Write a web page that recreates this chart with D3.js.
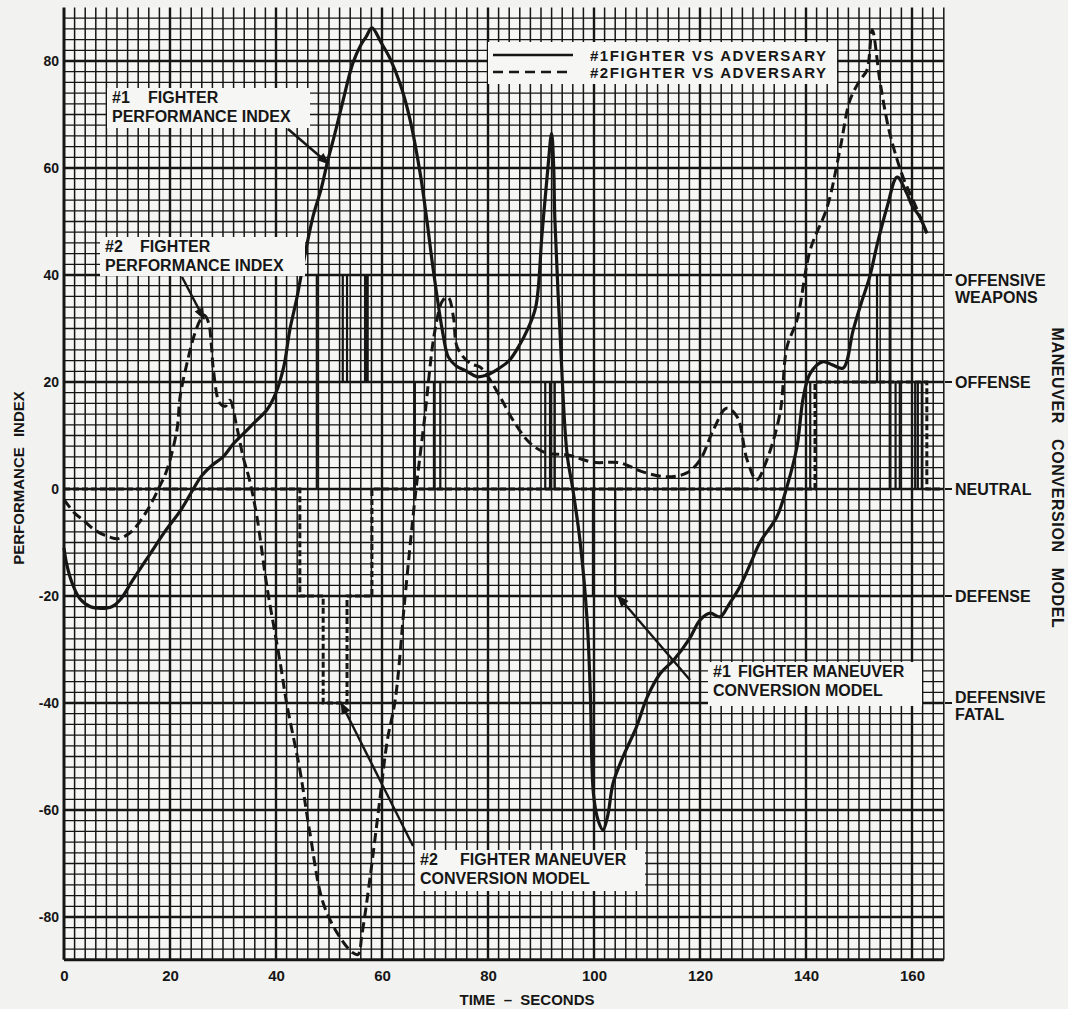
<!DOCTYPE html>
<html>
<head>
<meta charset="utf-8">
<script src="https://cdn.jsdelivr.net/npm/d3@7"></script>
<style>
  html, body { margin: 0; padding: 0; background: #f2f2f0; }
  svg { display: block; font-family: "Liberation Sans", Arial, Helvetica, sans-serif; font-weight: bold; }
  .pre { white-space: pre; }
</style>
</head>
<body>
<svg id="chart" width="1068" height="1009"></svg>
<script>
// ---- tick labels and category levels ----
const xTickValues = [0, 20, 40, 60, 80, 100, 120, 140, 160];
const yTickValues = [80, 60, 40, 20, 0, -20, -40, -60, -80];
const maneuverLevels = [40, 20, 0, -20, -40];
const maneuverLevelNames = [["OFFENSIVE", "WEAPONS"], ["OFFENSE"], ["NEUTRAL"], ["DEFENSE"], ["DEFENSIVE", "FATAL"]];
const legendLabels = ["#1FIGHTER VS ADVERSARY", "#2FIGHTER VS ADVERSARY"];

// ---- performance index, [time s, index] ----
const fighter1Index = [
  [0, -11], [0.5, -14], [1.5, -17.5], [3, -20.5], [5, -22], [7, -22.3], [9, -22], [10.6, -20.7],
  [13, -17], [16, -12.5], [19, -8], [22, -4], [24.4, 0], [26, 2.5], [28, 4.5], [30, 6], [32, 8.5],
  [34, 10.5], [36, 12.5], [38.3, 14.8], [40, 18], [41.5, 23], [42.6, 29.7], [44, 36], [45.5, 44],
  [47, 51], [48.5, 56], [49.8, 61.5], [51, 66], [52.5, 72], [54.5, 79.6], [56, 83], [57, 84.5],
  [58.1, 86.2], [59.8, 83.5], [61.5, 80.5], [63.5, 75.5], [65.3, 69], [67.2, 59], [68.5, 50], [69.6, 41.5],
  [71.5, 29], [72.5, 24.7], [74, 23], [76, 22], [77.9, 21], [79.8, 21.3], [82, 22.5], [84, 24],
  [86, 27], [87.4, 29.7], [89, 34], [90.2, 47.8], [91.3, 60], [92, 66.5], [92.4, 60], [92.6, 50.8],
  [93.6, 29], [94.9, 6.7], [96, 0], [97.4, -10], [98.7, -24.5], [99.3, -38], [99.9, -57],
  [100.8, -62], [101.7, -63.7], [102.6, -61], [103.6, -55], [105.5, -50], [108, -44.5], [110, -39],
  [112.5, -34.5], [115, -32], [118, -28], [120, -24.5], [121.9, -23.2], [123.8, -23.9], [125.5, -21.5],
  [127.5, -18.3], [129.5, -14], [131.3, -10], [134.5, -5.2], [136.4, 0.4], [138.3, 7.9], [139.5, 17.2],
  [140.8, 21.6], [143.2, 23.8], [145, 23.2], [147, 22.6], [148.9, 29.7], [150.5, 35], [152, 39.6],
  [153.5, 46], [155.3, 52.7], [157.2, 58.3], [159, 55.3], [160, 53], [161.5, 50.8], [162.8, 47.8]
];
const fighter2Index = [
  [0, -2], [2, -4.5], [3.6, -5.8], [6, -7.8], [8.7, -9], [10, -9.3], [11.5, -8.8], [13, -7.7],
  [15.7, -4], [18, 0.4], [19.4, 3.5], [21.3, 11], [21.9, 17.2], [23.2, 23.5], [24.5, 28.5],
  [25.7, 31.6], [26.5, 32.5], [27.3, 31], [27.8, 27], [28.2, 22.2], [29.4, 16], [30.5, 15.5],
  [31.3, 16.6], [32.6, 11.6], [33.8, 6], [35, 1.7], [36.4, -5.2], [38.3, -18.3], [40.8, -32.5],
  [42, -40], [44.5, -52.5], [46.4, -64.3], [48.9, -77.4], [52, -83.7], [54.5, -86.7], [55.5, -87],
  [56.2, -83.4], [57.7, -73], [59.6, -58], [61, -47], [62.5, -39.4], [64.3, -20.7], [66.2, -2],
  [68, 12.9], [70, 29.7], [71.5, 35.3], [72.5, 35.8], [73.5, 32], [74.2, 26.5], [76.6, 23.5],
  [78.5, 22.8], [80, 21], [82.3, 17.2], [84.7, 12.9], [87.9, 8.6], [91.1, 6.7], [94.9, 6.4],
  [99.8, 5], [104.9, 4.9], [109.2, 3.2], [113.8, 2.3], [117.5, 3], [120, 5.4], [122.5, 11],
  [125, 15.1], [127, 13.5], [128.9, 5.4], [130.7, 1.7], [132.6, 5.4], [135.1, 14.2], [136.4, 26.5],
  [138.3, 31.6], [140.8, 44.7], [144, 52.7], [146.4, 63.4], [148.3, 72.7], [150.2, 76.4],
  [151.5, 78.3], [152.5, 85.8], [154, 75.9], [155.8, 66.5], [158.3, 58.3], [160.2, 54], [162.8, 47.8]
];

// ---- maneuver conversion model, [switch time s, level] ----
const fighter1Maneuver = [
  [0, 0], [47.7, 40], [52.6, 20], [53.4, 40], [56.8, 20], [57.2, 40], [57.3, 20], [66.2, 0],
  [69.8, 20], [71, 0], [90.8, 20], [91.7, 0], [92.55, 20], [92.6, 0], [99.8, -20], [104, 0],
  [140.8, 20], [153.4, 40], [155.8, 0], [156.9, 20], [157.7, 0], [160.6, 20], [161.1, 0],
  [161.85, 20], [161.9, 0], [166, 0]
];
const fighter2Maneuver = [
  [0, 0], [44.5, -20], [48.9, -40], [53.4, -20], [58.1, 0], [141.7, 20], [162.8, 0], [166, 0]
];

// ---- layout ----
const svg = d3.select("#chart");
const ink = "#161616";
const x = d3.scaleLinear().domain([0, 166]).range([64, 943.8]);
const y = d3.scaleLinear().domain([-88, 90]).range([959.8, 7.5]);

// paper
svg.append("rect").attr("width", 1068).attr("height", 1009).attr("fill", "#f2f2f0");
svg.append("rect").attr("x", x(0)).attr("y", y(90)).attr("width", x(166) - x(0)).attr("height", y(-88) - y(90)).attr("fill", "#f6f6f4");

// graph-paper grid, 2-unit cells, heavy every 20
const grid = svg.append("g");
const vLines = d3.range(0, 167, 2);
const hLines = d3.range(-88, 89, 2);
grid.selectAll("line.h").data(hLines).join("line")
  .attr("x1", x(0)).attr("x2", x(166))
  .attr("y1", d => y(d)).attr("y2", d => y(d))
  .attr("stroke", ink)
  .attr("stroke-width", d => d === -88 ? 3 : (d % 20 === 0 ? 2.4 : 1.3));
grid.selectAll("line.v").data(vLines).join("line")
  .attr("y1", y(-88)).attr("y2", y(90))
  .attr("x1", d => x(d)).attr("x2", d => x(d))
  .attr("stroke", ink)
  .attr("stroke-width", d => d === 0 ? 3 : (d % 20 === 0 ? 2.4 : 1.5));

// axes (labels only; the grid carries the lines)
const yAxis = svg.append("g").attr("transform", `translate(${x(0)},0)`)
  .call(d3.axisLeft(y).tickValues(yTickValues).tickFormat(d => String(d)).tickSize(0).tickPadding(5));
yAxis.select(".domain").remove();
yAxis.selectAll("text").attr("font-size", 14).attr("font-weight", "bold").attr("fill", ink)
  .attr("font-family", '"Liberation Sans", Arial, sans-serif');

const xAxis = svg.append("g").attr("transform", `translate(0,${y(-88)})`)
  .call(d3.axisBottom(x).tickValues(xTickValues).tickFormat(d => String(d)).tickSize(0).tickPadding(11));
xAxis.select(".domain").remove();
xAxis.selectAll("text").attr("font-size", 15).attr("font-weight", "bold").attr("fill", ink)
  .attr("font-family", '"Liberation Sans", Arial, sans-serif');

// maneuver conversion model steps
const stepLine = d3.line().x(d => x(d[0])).y(d => y(d[1])).curve(d3.curveStepAfter);
svg.append("path").datum(fighter1Maneuver).attr("d", stepLine)
  .attr("fill", "none").attr("stroke", ink).attr("stroke-width", 2.2);
svg.append("path").datum(fighter2Maneuver).attr("d", stepLine)
  .attr("fill", "none").attr("stroke", ink).attr("stroke-width", 3)
  .attr("stroke-dasharray", "6,3");

// performance index curves
const curve = d3.line().x(d => x(d[0])).y(d => y(d[1])).curve(d3.curveCatmullRom.alpha(0.5));
svg.append("path").datum(fighter2Index).attr("d", curve)
  .attr("fill", "none").attr("stroke", ink).attr("stroke-width", 3)
  .attr("stroke-dasharray", "10,5");
svg.append("path").datum(fighter1Index).attr("d", curve)
  .attr("fill", "none").attr("stroke", ink).attr("stroke-width", 3.2)
  .attr("stroke-linejoin", "round");

// right-hand category labels
const rightLabels = svg.append("g").attr("font-size", 16).attr("fill", ink);
maneuverLevels.forEach((lv, i) => {
  const names = maneuverLevelNames[i];
  const py = y(lv);
  rightLabels.append("line").attr("x1", 945).attr("x2", 952).attr("y1", py).attr("y2", py)
    .attr("stroke", ink).attr("stroke-width", 2);
  const first = names.length === 1 ? py + 6 : (lv > 0 ? py + 11 : py);
  names.forEach((n, j) => {
    rightLabels.append("text").attr("x", 955).attr("y", first + j * 17).text(n);
  });
});

// axis titles
svg.append("text").attr("transform", `translate(24,478) rotate(-90)`)
  .attr("text-anchor", "middle").attr("font-size", 15).attr("fill", ink)
  .attr("word-spacing", 6).text("PERFORMANCE INDEX");
svg.append("text").attr("transform", `translate(1052,478) rotate(90)`)
  .attr("text-anchor", "middle").attr("font-size", 16).attr("fill", ink)
  .attr("letter-spacing", 0.6).attr("word-spacing", 10).text("MANEUVER CONVERSION MODEL");
svg.append("text").attr("class", "pre").attr("x", 527).attr("y", 1005)
  .attr("text-anchor", "middle").attr("font-size", 15).attr("fill", ink)
  .text("TIME  \u2013  SECONDS");

// legend
const legend = svg.append("g");
legend.append("rect").attr("x", 488).attr("y", 42).attr("width", 349).attr("height", 42).attr("fill", "#f6f6f4");
legendLabels.forEach((lab, i) => {
  const ly = 55 + i * 17;
  legend.append("line").attr("x1", 493).attr("x2", 573).attr("y1", ly).attr("y2", ly)
    .attr("stroke", ink).attr("stroke-width", 2.6)
    .attr("stroke-dasharray", i === 0 ? null : "10,6");
  legend.append("text").attr("x", 590).attr("y", ly + 5.5).attr("font-size", 15)
    .attr("textLength", 236).attr("lengthAdjust", "spacing").attr("fill", ink).text(lab);
});

// callouts
svg.append("defs").append("marker").attr("id", "head")
  .attr("viewBox", "0 0 10 10").attr("refX", 9).attr("refY", 5)
  .attr("markerWidth", 6).attr("markerHeight", 5).attr("orient", "auto")
  .append("path").attr("d", "M0,1 L10,5 L0,9 Z").attr("fill", ink);

function callout(box, tag, rest, line2, lineX, arrow) {
  const g = svg.append("g");
  g.append("rect").attr("x", box[0]).attr("y", box[1]).attr("width", box[2]).attr("height", box[3]).attr("fill", "#f6f6f4");
  g.append("text").attr("x", box[0] + 5).attr("y", box[1] + 15).attr("font-size", 16).attr("fill", ink).text(tag);
  g.append("text").attr("x", lineX).attr("y", box[1] + 15).attr("font-size", 16).attr("fill", ink).text(rest);
  g.append("text").attr("x", box[0] + 5).attr("y", box[1] + 34).attr("font-size", 16).attr("fill", ink).text(line2);
  g.append("line").attr("x1", arrow[0]).attr("y1", arrow[1]).attr("x2", arrow[2]).attr("y2", arrow[3])
    .attr("stroke", ink).attr("stroke-width", 2.4).attr("marker-end", "url(#head)");
}
callout([107, 88, 203, 40], "#1", "FIGHTER", "PERFORMANCE INDEX", 148, [288, 129, x(49.9), y(60.8)]);
callout([100, 237, 205, 39], "#2", "FIGHTER", "PERFORMANCE INDEX", 140, [182, 277, x(26.4), y(31.8)]);
callout([415, 850, 230, 41], "#2", "FIGHTER MANEUVER", "CONVERSION MODEL", 460, [413, 846, x(52.3), y(-40)]);
callout([708, 662, 214, 44], "#1", "FIGHTER MANEUVER", "CONVERSION MODEL", 738, [690, 680, x(104.5), y(-20)]);
</script>
</body>
</html>
